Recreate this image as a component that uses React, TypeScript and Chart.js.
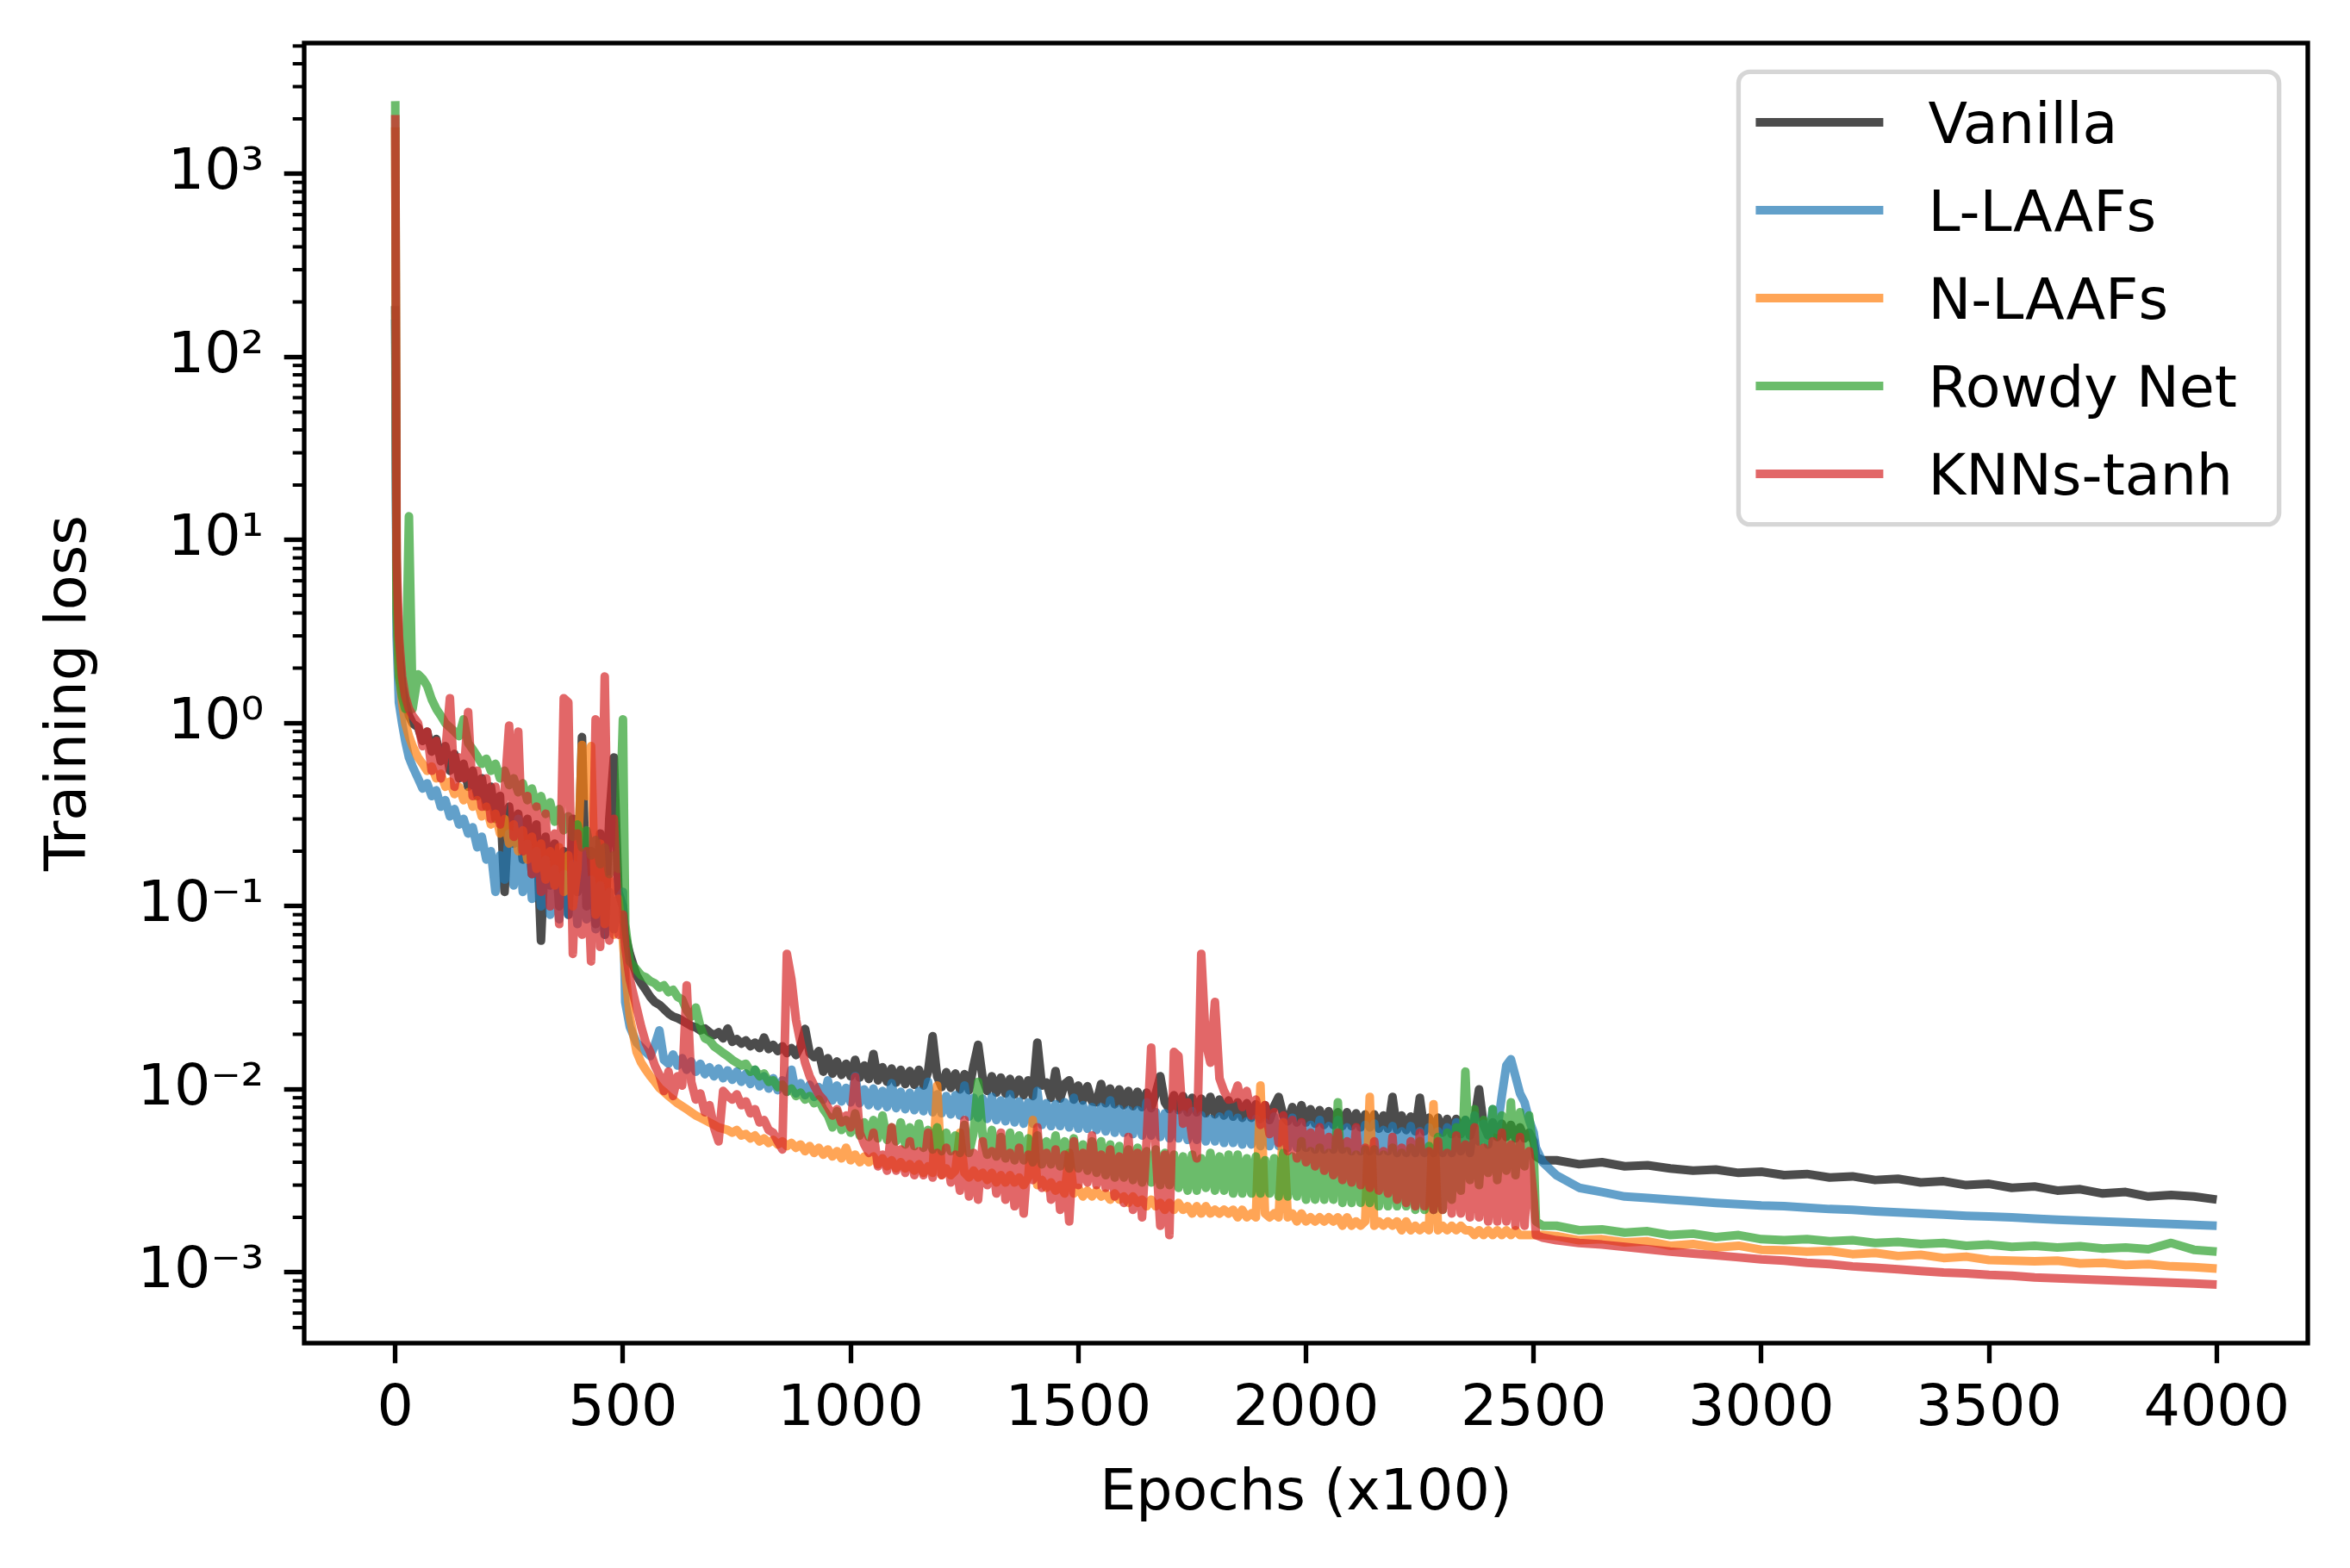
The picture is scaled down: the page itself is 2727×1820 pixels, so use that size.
import { useEffect, useRef } from 'react';
import { Chart, registerables } from 'chart.js';

Chart.register(...registerables);

// epochs (x100) shared by every run
const EPOCHS = [
  0, 3, 8, 15, 22, 30, 38,
  50, 60, 70, 80, 90, 100, 110, 120, 130, 140,
  150, 160, 170, 180, 190, 200, 210, 220, 230, 240,
  250, 260, 270, 280, 290, 300, 310, 320, 330, 340,
  350, 360, 370, 380, 390, 400, 410, 420, 430, 440,
  450, 460, 470, 480, 490, 500,
  505, 515, 530,
  540, 550, 560, 570, 580, 590, 600, 610, 620, 630,
  640, 650, 660, 670, 680, 690, 700, 710, 720, 730,
  740, 750, 760, 770, 780, 790, 800, 810, 820, 830,
  840, 850, 860, 870, 880, 890, 900, 910, 920, 930,
  940, 950, 960, 970, 980, 990, 1000, 1010, 1020, 1030,
  1040, 1050, 1060, 1070, 1080, 1090, 1100, 1110, 1120, 1130,
  1140, 1150, 1160, 1170, 1180, 1190, 1200, 1210, 1220, 1230,
  1240, 1250, 1260, 1270, 1280, 1290, 1300, 1310, 1320, 1330,
  1340, 1350, 1360, 1370, 1380, 1390, 1400, 1410, 1420, 1430,
  1440, 1450, 1460, 1470, 1480, 1490, 1500, 1510, 1520, 1530,
  1540, 1550, 1560, 1570, 1580, 1590, 1600, 1610, 1620, 1630,
  1640, 1650, 1660, 1670, 1680, 1690, 1700, 1710, 1720, 1730,
  1740, 1750, 1760, 1770, 1780, 1790, 1800, 1810, 1820, 1830,
  1840, 1850, 1860, 1870, 1880, 1890, 1900, 1910, 1920, 1930,
  1940, 1950, 1960, 1970, 1980, 1990, 2000, 2010, 2020, 2030,
  2040, 2050, 2060, 2070, 2080, 2090, 2100, 2110, 2120, 2130,
  2140, 2150, 2160, 2170, 2180, 2190, 2200, 2210, 2220, 2230,
  2240, 2250, 2260, 2270, 2280, 2290, 2300, 2310, 2320, 2330,
  2340, 2350, 2360, 2370, 2380, 2390, 2400, 2410, 2420, 2430,
  2440, 2450, 2460, 2470, 2480, 2490, 2500,
  2505, 2520, 2550,
  2600, 2650, 2700, 2750, 2800, 2850, 2900, 2950, 3000, 3050,
  3100, 3150, 3200, 3250, 3300, 3350, 3400, 3450, 3500, 3550,
  3600, 3650, 3700, 3750, 3800, 3850, 3900, 3950, 4000,
];

const VANILLA = [
  190, 6, 2.5, 1.6, 1.3, 1.1, 1.0,
  0.95, 0.8, 0.9, 0.7, 0.82, 0.62, 0.75, 0.55, 0.68, 0.5,
  0.6, 0.45, 0.55, 0.4, 0.5, 0.35, 0.45, 0.3, 0.4, 0.12,
  0.35, 0.22, 0.32, 0.18, 0.3, 0.15, 0.28, 0.065, 0.24, 0.13,
  0.22, 0.1, 0.2, 0.09, 0.3, 0.12, 0.84, 0.1, 0.2, 0.08,
  0.25, 0.07, 0.3, 0.65, 0.12, 0.1,
  0.07, 0.055, 0.042,
  0.038, 0.035, 0.032, 0.03, 0.029, 0.0275, 0.026, 0.025, 0.0245, 0.0238,
  0.023, 0.0222, 0.0218, 0.021, 0.0215, 0.0205, 0.0198, 0.0205, 0.019, 0.0215,
  0.0182, 0.0188, 0.0178, 0.0185, 0.0172, 0.018, 0.0168, 0.0192, 0.0166, 0.0175,
  0.0162, 0.0172, 0.0158, 0.0168, 0.0154, 0.0172, 0.0214, 0.0158, 0.015, 0.0162,
  0.0125, 0.0148, 0.0122, 0.0142, 0.012, 0.0138, 0.0118, 0.0145, 0.0116, 0.0135,
  0.0114, 0.0156, 0.0112, 0.0132, 0.011, 0.013, 0.0109, 0.0128, 0.0107, 0.0126,
  0.0106, 0.0128, 0.0105, 0.0125, 0.0195, 0.0118, 0.0103, 0.0124, 0.0102, 0.0122,
  0.01, 0.0121, 0.0099, 0.0135, 0.0175, 0.0115, 0.0098, 0.0118, 0.0096, 0.0116,
  0.0095, 0.0114, 0.0094, 0.0113, 0.0093, 0.0112, 0.0092, 0.018, 0.0105, 0.0109,
  0.009, 0.0126, 0.0089, 0.0107, 0.0112, 0.0088, 0.0105, 0.0087, 0.0104, 0.0086,
  0.0085, 0.0107, 0.0084, 0.0101, 0.0083, 0.01, 0.0082, 0.0098, 0.0081, 0.0097,
  0.008, 0.0096, 0.0079, 0.0095, 0.0118, 0.0085, 0.0078, 0.0093, 0.0077, 0.0092,
  0.0075, 0.009, 0.0075, 0.0089, 0.0074, 0.0091, 0.0073, 0.0088, 0.0072, 0.0087,
  0.0071, 0.0085, 0.007, 0.0084, 0.007, 0.0083, 0.0069, 0.0082, 0.0068, 0.0081,
  0.0091, 0.0072, 0.0067, 0.008, 0.0066, 0.0082, 0.0066, 0.0078, 0.0065, 0.0077,
  0.0064, 0.0076, 0.0064, 0.0075, 0.0063, 0.0075, 0.0063, 0.0074, 0.0062, 0.0073,
  0.0062, 0.0073, 0.0061, 0.0072, 0.0061, 0.0091, 0.006, 0.0072, 0.006, 0.0071,
  0.0059, 0.009, 0.0059, 0.007, 0.0058, 0.007, 0.0058, 0.0069, 0.0057, 0.0069,
  0.0057, 0.0068, 0.0056, 0.0068, 0.01, 0.0064, 0.0056, 0.0066, 0.0055, 0.0065,
  0.0055, 0.0064, 0.0054, 0.0062, 0.0054, 0.0058, 0.0052,
  0.0043, 0.0041, 0.0041,
  0.0039, 0.004, 0.0038, 0.00385, 0.0037, 0.0036, 0.00365, 0.0035, 0.00355, 0.0034,
  0.00345, 0.0033, 0.00335, 0.0032, 0.00325, 0.0031, 0.00315, 0.003, 0.00305, 0.0029,
  0.00295, 0.0028, 0.00285, 0.0027, 0.00275, 0.0026, 0.00265, 0.0026, 0.0025,
];

const L_LAAFS = [
  160, 3, 1.3, 1.0, 0.8, 0.65, 0.58,
  0.5, 0.44, 0.47, 0.4, 0.43, 0.35, 0.38, 0.31, 0.34, 0.28,
  0.3, 0.25, 0.27, 0.21, 0.24, 0.18, 0.2, 0.12, 0.19, 0.14,
  0.25, 0.13, 0.3, 0.12, 0.22, 0.11, 0.2, 0.1, 0.18, 0.09,
  0.16, 0.085, 0.15, 0.09, 0.17, 0.08, 0.2, 0.085, 0.14, 0.075,
  0.13, 0.07, 0.12, 0.075, 0.11, 0.12,
  0.03, 0.022, 0.018,
  0.017, 0.016, 0.0152, 0.0175, 0.021, 0.0145, 0.0138, 0.0155, 0.0135, 0.0148,
  0.0128, 0.0142, 0.0125, 0.0138, 0.0121, 0.0132, 0.0118, 0.013, 0.0115, 0.0127,
  0.0113, 0.0125, 0.011, 0.0122, 0.0107, 0.0128, 0.0104, 0.0118, 0.0101, 0.0115,
  0.0099, 0.0112, 0.0097, 0.0128, 0.0095, 0.0108, 0.0093, 0.0106, 0.0091, 0.0103,
  0.0088, 0.0112, 0.0087, 0.0105, 0.0086, 0.0102, 0.0085, 0.0118, 0.0084, 0.01,
  0.0082, 0.0101, 0.0081, 0.0098, 0.008, 0.0108, 0.0079, 0.0097, 0.0078, 0.0096,
  0.0077, 0.0098, 0.0076, 0.011, 0.0075, 0.0094, 0.0074, 0.0092, 0.0073, 0.0093,
  0.0072, 0.0105, 0.0071, 0.009, 0.007, 0.0089, 0.0069, 0.0091, 0.0068, 0.0087,
  0.0067, 0.0094, 0.0066, 0.0086, 0.0065, 0.0085, 0.0065, 0.0098, 0.0064, 0.0084,
  0.0063, 0.0083, 0.0063, 0.0085, 0.0062, 0.009, 0.0061, 0.0082, 0.0061, 0.008,
  0.006, 0.008, 0.0059, 0.0087, 0.0058, 0.0078, 0.0058, 0.0077, 0.0057, 0.0077,
  0.0056, 0.0085, 0.0056, 0.0075, 0.0055, 0.0074, 0.0054, 0.0073, 0.0054, 0.0073,
  0.0053, 0.0076, 0.0053, 0.0072, 0.0052, 0.0069, 0.0052, 0.0071, 0.0051, 0.0073,
  0.0051, 0.007, 0.005, 0.0067, 0.005, 0.0069, 0.0049, 0.0066, 0.0049, 0.0071,
  0.0049, 0.0067, 0.0048, 0.007, 0.0048, 0.0065, 0.0048, 0.0064, 0.0047, 0.0068,
  0.0047, 0.0063, 0.0047, 0.0068, 0.0047, 0.0062, 0.0046, 0.0061, 0.0046, 0.0064,
  0.0046, 0.0065, 0.0046, 0.006, 0.0046, 0.0063, 0.0045, 0.0059, 0.0045, 0.0063,
  0.0045, 0.0059, 0.0045, 0.0062, 0.0045, 0.0059, 0.0045, 0.0062, 0.0045, 0.0066,
  0.0046, 0.0068, 0.0045, 0.0072, 0.0052, 0.0065, 0.005, 0.0078, 0.006, 0.0092,
  0.0135, 0.0146, 0.0118, 0.0095, 0.0085, 0.0068, 0.0058,
  0.0048, 0.004, 0.0034,
  0.0029, 0.00275, 0.0026, 0.00255, 0.0025, 0.00245, 0.0024, 0.00236, 0.00232, 0.0023,
  0.00226, 0.00222, 0.0022, 0.00216, 0.00213, 0.0021, 0.00207, 0.00204, 0.00202, 0.002,
  0.00197, 0.00194, 0.00192, 0.0019, 0.00188, 0.00186, 0.00184, 0.00182, 0.0018,
];

const N_LAAFS = [
  1800, 5, 2, 1.3, 1.0, 0.85, 0.75,
  0.65, 0.6, 0.55, 0.58, 0.5, 0.53, 0.45, 0.48, 0.41, 0.45,
  0.38, 0.42, 0.35, 0.38, 0.31, 0.35, 0.28, 0.32, 0.25, 0.3,
  0.22, 0.28, 0.2, 0.26, 0.18, 0.24, 0.16, 0.22, 0.14, 0.2,
  0.13, 0.21, 0.12, 0.19, 0.1, 0.16, 0.76, 0.4, 0.75, 0.09,
  0.22, 0.08, 0.14, 0.07, 0.11, 0.065,
  0.045, 0.025, 0.016,
  0.014, 0.0128, 0.0118, 0.011, 0.0102, 0.0097, 0.0092, 0.0088, 0.0084, 0.0081,
  0.0078, 0.0075, 0.0072, 0.007, 0.0068, 0.0066, 0.0064, 0.0062, 0.0061, 0.006,
  0.0058, 0.006, 0.0056, 0.0057, 0.0054, 0.0056, 0.0052, 0.0054, 0.0051, 0.0053,
  0.005, 0.0052, 0.0049, 0.0051, 0.0048, 0.005, 0.0046, 0.0049, 0.0045, 0.0048,
  0.0044, 0.0047, 0.0043, 0.0046, 0.0042, 0.0048, 0.0041, 0.0044, 0.004, 0.0043,
  0.004, 0.0043, 0.0039, 0.0042, 0.0038, 0.0041, 0.0037, 0.004, 0.0037, 0.0039,
  0.0036, 0.0039, 0.0035, 0.0038, 0.0035, 0.0105, 0.0034, 0.0037, 0.0034, 0.0036,
  0.0058, 0.0035, 0.0033, 0.0036, 0.0033, 0.0035, 0.0032, 0.0035, 0.0031, 0.0034,
  0.0031, 0.0034, 0.0031, 0.0033, 0.003, 0.0033, 0.0068, 0.003, 0.0032, 0.0029,
  0.0031, 0.0028, 0.003, 0.0027, 0.0045, 0.0027, 0.0029, 0.0026, 0.0028, 0.0026,
  0.0028, 0.0026, 0.0027, 0.0025, 0.0027, 0.0025, 0.0026, 0.0024, 0.0026, 0.0024,
  0.0025, 0.0023, 0.0025, 0.0023, 0.0024, 0.0022, 0.0024, 0.0022, 0.0024, 0.0022,
  0.0023, 0.0021, 0.0023, 0.0021, 0.0023, 0.0021, 0.0022, 0.0021, 0.0022, 0.0021,
  0.0022, 0.002, 0.0022, 0.002, 0.0021, 0.002, 0.0105, 0.0021, 0.002, 0.0021,
  0.002, 0.0066, 0.002, 0.0021, 0.0019, 0.0021, 0.0019, 0.002, 0.0019, 0.002,
  0.0019, 0.002, 0.0019, 0.002, 0.0018, 0.002, 0.0018, 0.0019, 0.0018, 0.0019,
  0.0091, 0.0018, 0.0019, 0.0018, 0.0019, 0.0018, 0.0019, 0.0017, 0.0019, 0.0017,
  0.0018, 0.0017, 0.0018, 0.0017, 0.0083, 0.0017, 0.0018, 0.0017, 0.0018, 0.0017,
  0.0018, 0.0017, 0.0017, 0.0016, 0.0017, 0.0016, 0.0017, 0.0016, 0.0017, 0.0016,
  0.0017, 0.0016, 0.0017, 0.0016, 0.0016, 0.0016, 0.0016,
  0.0016, 0.0016, 0.00158,
  0.0015, 0.00152, 0.00146, 0.00148, 0.0014, 0.00143, 0.00137, 0.0014, 0.00133, 0.00132,
  0.0013, 0.00131, 0.00126, 0.00128, 0.00123, 0.00125, 0.0012, 0.00122, 0.00117, 0.00116,
  0.00115, 0.00116, 0.00112, 0.00113, 0.0011, 0.00111, 0.00108, 0.00107, 0.00105,
];

const ROWDY_NET = [
  2500, 4, 1.8, 1.4, 1.2, 13.5, 1.2,
  1.85, 1.75, 1.6, 1.35, 1.2, 1.1, 1.0, 0.95, 0.9, 0.85,
  1.05, 0.78, 0.72, 0.66, 0.6, 0.64, 0.55, 0.6, 0.5, 0.55,
  0.46, 0.5, 0.42, 0.47, 0.38, 0.44, 0.35, 0.4, 0.32, 0.37,
  0.29, 0.34, 0.26, 0.31, 0.24, 0.28, 0.21, 0.26, 0.19, 0.23,
  0.17, 0.21, 0.15, 0.19, 0.16, 1.05,
  0.08, 0.05, 0.045,
  0.042, 0.041, 0.039, 0.038, 0.036, 0.037, 0.034, 0.035, 0.032, 0.031,
  0.027, 0.025, 0.028, 0.022, 0.019, 0.0185, 0.0172, 0.0165, 0.0158, 0.0152,
  0.0145, 0.014, 0.0135, 0.0138, 0.0125, 0.0128, 0.0118, 0.0122, 0.011, 0.0112,
  0.0103, 0.0106, 0.0097, 0.0101, 0.0092, 0.0096, 0.0088, 0.0092, 0.0084, 0.0088,
  0.0078, 0.0072, 0.0062, 0.0076, 0.006, 0.0068, 0.0058, 0.0074, 0.0056, 0.0066,
  0.0055, 0.0068, 0.0054, 0.0072, 0.0053, 0.0062, 0.0052, 0.0066, 0.005, 0.0062,
  0.0049, 0.0065, 0.0048, 0.006, 0.0047, 0.0062, 0.0046, 0.0058, 0.0046, 0.0056,
  0.0045, 0.0064, 0.0045, 0.0058, 0.011, 0.0056, 0.0044, 0.006, 0.0043, 0.0055,
  0.0042, 0.0058, 0.0041, 0.0056, 0.0041, 0.0054, 0.004, 0.0056, 0.0039, 0.0052,
  0.0039, 0.0056, 0.0038, 0.0052, 0.0037, 0.0054, 0.0037, 0.005, 0.0036, 0.0052,
  0.0035, 0.0052, 0.0034, 0.005, 0.0033, 0.0049, 0.0033, 0.0047, 0.0032, 0.0048,
  0.0031, 0.0046, 0.0031, 0.0047, 0.003, 0.0045, 0.003, 0.0044, 0.0029, 0.0043,
  0.0028, 0.0044, 0.0028, 0.0042, 0.0029, 0.0045, 0.0028, 0.0043, 0.0028, 0.0044,
  0.0027, 0.0044, 0.0027, 0.0042, 0.0027, 0.0043, 0.0027, 0.0041, 0.0027, 0.0042,
  0.0026, 0.0045, 0.0026, 0.0043, 0.0026, 0.0052, 0.0025, 0.0046, 0.0025, 0.0048,
  0.0025, 0.0045, 0.0025, 0.0085, 0.0024, 0.0046, 0.0024, 0.0044, 0.0024, 0.0047,
  0.0024, 0.0047, 0.0023, 0.0044, 0.0023, 0.0048, 0.0023, 0.0045, 0.0023, 0.0048,
  0.0022, 0.0052, 0.0022, 0.0049, 0.0022, 0.0055, 0.0022, 0.0058, 0.0025, 0.0062,
  0.0028, 0.0125, 0.0032, 0.0078, 0.003, 0.0068, 0.0035, 0.0078, 0.0032, 0.0072,
  0.0036, 0.0085, 0.0034, 0.0075, 0.0038, 0.0072, 0.0045,
  0.0019, 0.0018, 0.0018,
  0.0017, 0.00172, 0.00165, 0.00168, 0.0016, 0.00163, 0.00156, 0.0016, 0.00152, 0.0015,
  0.00152, 0.00148, 0.0015, 0.00145, 0.00147, 0.00143, 0.00145, 0.0014, 0.00142, 0.00138,
  0.0014, 0.00137, 0.00139, 0.00135, 0.00137, 0.00134, 0.00145, 0.00133, 0.0013,
];

const KNNS_TANH = [
  2100, 8, 3, 1.8, 1.4, 1.2, 1.1,
  1.0, 0.75, 0.9, 0.55, 0.8, 0.5, 0.7, 1.37, 0.45, 0.65,
  0.5, 1.15, 0.4, 0.55, 0.35, 0.5, 0.3, 0.45, 0.28, 0.42,
  0.97, 0.24, 0.9, 0.2, 0.4, 0.15, 0.35, 0.12, 0.32, 0.1,
  0.25, 0.08, 1.37, 1.3, 0.055, 0.25, 0.07, 0.2, 0.05, 1.05,
  0.06, 1.8, 0.065, 0.3, 0.07, 0.09,
  0.06, 0.04, 0.028,
  0.022, 0.018, 0.016, 0.0135, 0.012, 0.0098, 0.0125, 0.0092, 0.0118, 0.0105,
  0.037, 0.011, 0.0088, 0.0095, 0.0075, 0.0082, 0.0062, 0.0052, 0.0098, 0.0092,
  0.0088, 0.0094, 0.0082, 0.0086, 0.0074, 0.0078, 0.0066, 0.0068, 0.006, 0.0058,
  0.0052, 0.0047, 0.055, 0.04, 0.024, 0.018, 0.014, 0.0118, 0.0105, 0.0094,
  0.0088, 0.008, 0.0072, 0.0078, 0.0066, 0.0072, 0.0062, 0.0117, 0.0058, 0.005,
  0.0045, 0.0058, 0.0038, 0.0044, 0.0036, 0.0062, 0.0036, 0.0047, 0.0035, 0.0052,
  0.0034, 0.0046, 0.0034, 0.0058, 0.0033, 0.0045, 0.0034, 0.0048, 0.0031, 0.0044,
  0.0028, 0.0068, 0.0026, 0.0045, 0.0025, 0.0052, 0.003, 0.0046, 0.0027, 0.0058,
  0.0025, 0.0045, 0.0023, 0.0048, 0.0021, 0.0044, 0.0032, 0.0062, 0.0029, 0.0045,
  0.0025, 0.0047, 0.0022, 0.0044, 0.0019, 0.0052, 0.003, 0.0045, 0.0031, 0.0056,
  0.003, 0.0044, 0.0029, 0.0047, 0.0026, 0.0043, 0.0024, 0.0055, 0.0022, 0.0045,
  0.002, 0.0052, 0.0169, 0.0046, 0.0018, 0.0044, 0.0016, 0.016, 0.0152, 0.0065,
  0.0085, 0.0055, 0.0042, 0.055, 0.018, 0.014, 0.03, 0.0115, 0.0098, 0.0088,
  0.0089, 0.0105, 0.008, 0.0098, 0.0072, 0.0088, 0.0064, 0.0082, 0.0057, 0.0075,
  0.0051, 0.0072, 0.0046, 0.0068, 0.0042, 0.0066, 0.004, 0.0058, 0.0038, 0.0062,
  0.0036, 0.0055, 0.0034, 0.0058, 0.0032, 0.0052, 0.0031, 0.0062, 0.003, 0.0048,
  0.0029, 0.0052, 0.0028, 0.0046, 0.0027, 0.0055, 0.0025, 0.0048, 0.0024, 0.0052,
  0.0023, 0.0058, 0.0023, 0.0046, 0.0022, 0.0052, 0.0022, 0.0045, 0.0021, 0.0056,
  0.0021, 0.005, 0.002, 0.0062, 0.002, 0.0048, 0.0019, 0.0052, 0.0019, 0.0058,
  0.0019, 0.005, 0.0018, 0.0055, 0.0018, 0.0046, 0.0025,
  0.0016, 0.00155, 0.0015,
  0.00145, 0.00142, 0.00138, 0.00134, 0.0013, 0.00127, 0.00124, 0.00121, 0.00118, 0.00116,
  0.00113, 0.00111, 0.00108, 0.00106, 0.00104, 0.00102, 0.001, 0.00099, 0.00097, 0.00096,
  0.00094, 0.00093, 0.00092, 0.00091, 0.0009, 0.00089, 0.00088, 0.00087, 0.00086,
];

const SERIES_NAMES = ['Vanilla', 'L-LAAFs', 'N-LAAFs', 'Rowdy Net', 'KNNs-tanh'];
const SERIES_VALUES = [VANILLA, L_LAAFS, N_LAAFS, ROWDY_NET, KNNS_TANH];
const SERIES_COLORS = [
  'rgba(0, 0, 0, 0.7)',
  'rgba(31, 119, 180, 0.7)',
  'rgba(255, 127, 14, 0.7)',
  'rgba(44, 160, 44, 0.7)',
  'rgba(214, 39, 40, 0.7)',
];

const X_TICKS = [0, 500, 1000, 1500, 2000, 2500, 3000, 3500, 4000];
const Y_TICKS = [1e-3, 1e-2, 1e-1, 1, 10, 100, 1000];
const Y_TICK_LABELS = ['10⁻³', '10⁻²', '10⁻¹', '10⁰', '10¹', '10²', '10³'];

// figure was saved at 480 dpi, so 1pt = 480/72 px
const PT = 480 / 72;
const FONT_SIZE = 10 * PT;
const FONT = { family: '"DejaVu Sans", sans-serif', size: FONT_SIZE };

// frame, minor log ticks and the boxed legend inside the axes
const framePlugin = {
  id: 'frameAndLegend',
  afterDatasetsDraw(chart: Chart) {
    const { ctx, chartArea } = chart;
    const yScale = chart.scales.y;
    ctx.save();
    ctx.strokeStyle = '#000';
    ctx.lineWidth = 0.6 * PT;
    for (let e = -4; e <= 3; e++) {
      for (let k = 2; k <= 9; k++) {
        const v = k * Math.pow(10, e);
        if (v < yScale.min || v > yScale.max) continue;
        const y = yScale.getPixelForValue(v);
        ctx.beginPath();
        ctx.moveTo(chartArea.left - 2 * PT, y);
        ctx.lineTo(chartArea.left, y);
        ctx.stroke();
      }
    }
    ctx.lineWidth = 0.8 * PT;
    ctx.strokeRect(chartArea.left, chartArea.top, chartArea.right - chartArea.left, chartArea.bottom - chartArea.top);
    ctx.restore();
  },
  afterDraw(chart: Chart) {
    const { ctx, chartArea } = chart;
    const fs = FONT_SIZE;
    ctx.save();
    ctx.font = `${fs}px "DejaVu Sans", sans-serif`;
    const textW = Math.max(...SERIES_NAMES.map((n) => ctx.measureText(n).width));
    const rowGap = 1.53 * fs;
    const width = 3.3 * fs + textW + 0.73 * fs;
    const height = 1.76 * fs + (SERIES_NAMES.length - 1) * rowGap;
    const right = chartArea.right - 0.5 * fs;
    const top = chartArea.top + 0.5 * fs;
    const left = right - width;

    ctx.beginPath();
    ctx.roundRect(left, top, width, height, 0.2 * fs);
    ctx.fillStyle = 'rgba(255, 255, 255, 0.8)';
    ctx.fill();
    ctx.lineWidth = 0.8 * PT;
    ctx.strokeStyle = 'rgba(204, 204, 204, 0.8)';
    ctx.stroke();

    SERIES_NAMES.forEach((name, i) => {
      const y = top + 0.88 * fs + i * rowGap;
      ctx.beginPath();
      ctx.moveTo(left + 0.3 * fs, y);
      ctx.lineTo(left + 2.52 * fs, y);
      ctx.lineWidth = 1.5 * PT;
      ctx.strokeStyle = SERIES_COLORS[i];
      ctx.stroke();
      ctx.fillStyle = '#000';
      ctx.textBaseline = 'alphabetic';
      ctx.textAlign = 'left';
      ctx.fillText(name, left + 3.3 * fs, y + 0.365 * fs);
    });
    ctx.restore();
  },
};

export default function App() {
  const canvasRef = useRef<HTMLCanvasElement>(null);
  const chartRef = useRef<Chart | null>(null);

  useEffect(() => {
    document.body.style.margin = '0';
    if (!canvasRef.current) return;
    if (chartRef.current) chartRef.current.destroy();

    const tickGrid = {
      drawOnChartArea: false,
      drawTicks: true,
      tickLength: 3.5 * PT,
      tickWidth: 0.8 * PT,
      tickColor: '#000',
    };

    chartRef.current = new Chart(canvasRef.current, {
      type: 'line',
      data: {
        datasets: SERIES_NAMES.map((name, i) => ({
          label: name,
          data: EPOCHS.map((x, j) => ({ x, y: SERIES_VALUES[i][j] })),
          borderColor: SERIES_COLORS[i],
          borderWidth: 1.5 * PT,
          borderJoinStyle: 'round',
          borderCapStyle: 'butt',
          pointRadius: 0,
          tension: 0,
          fill: false,
          order: SERIES_NAMES.length - i,
        })),
      },
      options: {
        responsive: false,
        animation: false,
        events: [],
        layout: { padding: { top: 50, right: 49, bottom: 0, left: 0 } },
        plugins: {
          legend: { display: false },
          tooltip: { enabled: false },
        },
        scales: {
          x: {
            type: 'linear',
            min: -200,
            max: 4200,
            afterBuildTicks: (scale: any) => {
              scale.ticks = X_TICKS.map((v) => ({ value: v }));
            },
            afterFit: (scale: any) => {
              scale.height = 261;
              scale.paddingLeft = 0;
              scale.paddingRight = 0;
            },
            ticks: {
              autoSkip: false,
              maxRotation: 0,
              padding: 14,
              color: '#000',
              font: FONT,
              callback: (v: any) => String(v),
            },
            grid: tickGrid,
            border: { display: false },
            title: {
              display: true,
              text: 'Epochs (x100)',
              color: '#000',
              font: FONT,
              padding: { top: 0, bottom: 45 },
            },
          },
          y: {
            type: 'logarithmic',
            min: Math.pow(10, -3.386),
            max: Math.pow(10, 3.715),
            afterBuildTicks: (scale: any) => {
              scale.ticks = Y_TICKS.map((v) => ({ value: v, major: true }));
            },
            afterFit: (scale: any) => {
              scale.width = 353;
              scale.paddingTop = 0;
              scale.paddingBottom = 0;
            },
            ticks: {
              autoSkip: false,
              padding: 3.5 * PT,
              color: '#000',
              font: FONT,
              callback: (_v: any, index: number) => Y_TICK_LABELS[index],
            },
            grid: tickGrid,
            border: { display: false },
            title: {
              display: true,
              text: 'Training loss',
              color: '#000',
              font: FONT,
              padding: { top: 42, bottom: 0 },
            },
          },
        },
      },
      plugins: [framePlugin],
    } as any);

    return () => {
      if (chartRef.current) {
        chartRef.current.destroy();
        chartRef.current = null;
      }
    };
  }, []);

  return (
    <div style={{ position: 'absolute', left: 0, top: 0, width: 2727, height: 1820, background: '#fff' }}>
      <canvas ref={canvasRef} width={2727} height={1820} style={{ display: 'block', width: 2727, height: 1820 }} />
    </div>
  );
}
